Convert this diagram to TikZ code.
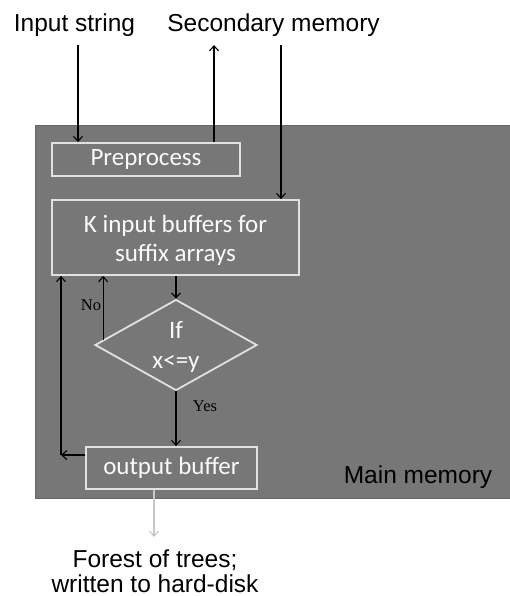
\documentclass[tikz,border=0pt]{standalone}
\usepackage{fontspec}
\setmainfont{Liberation Sans}
\newfontfamily\calibrifont{Carlito}
\newfontfamily\timesfont{Liberation Serif}
\usetikzlibrary{shapes.geometric,arrows.meta,calc}
\definecolor{maingray}{RGB}{119,119,119}
\definecolor{mainedge}{RGB}{105,105,105}
\definecolor{boxline}{RGB}{225,225,225}
\definecolor{boxtext}{RGB}{250,250,250}
\definecolor{lightarr}{RGB}{200,200,200}
\tikzset{
  box/.style={draw=boxline, line width=1.8pt, text=boxtext, font=\calibrifont\fontsize{25}{29}\selectfont, inner sep=0pt, align=center},
  arr/.style={-{Straight Barb[length=5pt,width=9pt]}, line width=1.1pt, draw=black},
  arrg/.style={-{Straight Barb[length=5pt,width=9pt]}, line width=1.1pt, draw=lightarr},
  outer/.style={font=\fontsize{24.5}{28}\selectfont, text=black, inner sep=0pt, anchor=base},
  small/.style={font=\timesfont\fontsize{16.5}{18}\selectfont, text=black, inner sep=0pt}
}
\begin{document}
\begin{tikzpicture}[x=1pt,y=-1pt]
\useasboundingbox[fill=white] (0,0) rectangle (510,596);
\node[draw=mainedge, fill=maingray, line width=0.8pt, inner sep=0pt, minimum width=476pt, minimum height=373pt, anchor=north west] (mainmem) at (35,125) {};
\node[outer] (mmlabel) at (418,483) {Main memory};
\node[outer] (instr) at (74.5,32) {Input string};
\node[outer] (secmem) at (273.5,32) {Secondary memory};
\node[box, minimum width=188pt, minimum height=33pt] (prep) at (146,159.5) {Preprocess};
\node[box, minimum width=247pt, minimum height=75pt] (kbuf) at (175.5,237.5) {};
\node[text=boxtext, font=\calibrifont\fontsize{25}{29}\selectfont, align=center, inner sep=0pt] (ktext) at (175.5,240) {K input buffers for\\suffix arrays};
\node[draw=boxline, line width=1.8pt, shape=diamond, inner sep=0pt, minimum width=162pt, minimum height=91pt] (dia) at (176,345) {};
\node[text=boxtext, font=\calibrifont\fontsize{25}{30}\selectfont, align=center, inner sep=0pt] (diatext) at (176,347) {If\\x<=y};
\node[box, minimum width=171pt, minimum height=42pt] (outbuf) at (171.5,468) {output buffer};
\node[outer] (forest1) at (155,567) {Forest of trees;};
\node[outer] (forest2) at (155,592) {written to hard-disk};
\node[small] (nolabel) at (91,305) {No};
\node[small] (yeslabel) at (205,406) {Yes};
\coordinate (isTop) at (78,45);
\coordinate (smUp) at (214,45);
\coordinate (smDn) at (281,45);
\coordinate (loopC) at (61,455);
\coordinate (fEnd) at (154,537);
\coordinate (noX) at ($(dia.west)!0.11!(dia.north)$);
\draw[arr] (isTop) -- (isTop |- prep.north);
\draw[arr] (smUp |- prep.north) -- (smUp);
\draw[arr] (smDn) -- (smDn |- kbuf.north);
\draw[arr] (dia.north |- kbuf.south) -- (dia.north);
\draw[arr] (noX) -- (noX |- kbuf.south);
\draw[arr] (outbuf.west |- loopC) -- (loopC);
\draw[arr] (loopC) -- (loopC |- kbuf.south);
\draw[arr] (dia.south) -- (dia.south |- outbuf.north);
\draw[arrg] (fEnd |- outbuf.south) -- (fEnd);
\end{tikzpicture}
\end{document}
